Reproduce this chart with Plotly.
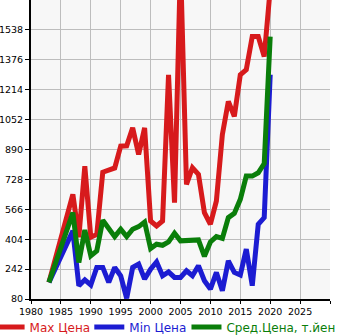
import plotly.graph_objects as go

years = [1983, 1987, 1988, 1989, 1990, 1991, 1992, 1993, 1994, 1995, 1996, 1997,
         1998, 1999, 2000, 2001, 2002, 2003, 2004, 2005, 2006, 2007, 2008, 2009,
         2010, 2011, 2012, 2013, 2014, 2015, 2016, 2017, 2018, 2019, 2020]

max_price = [170, 647, 415, 800, 415, 430, 767, 780, 790, 908, 910, 1007,
             863, 1007, 503, 476, 503, 1295, 602, 1900, 701, 791, 755, 548,
             485, 611, 971, 1151, 1070, 1295, 1322, 1502, 1502, 1394, 1760]

min_price = [170, 449, 152, 184, 156, 251, 251, 170, 251, 206, 84, 251,
             269, 188, 242, 281, 206, 227, 197, 197, 233, 206, 260, 179,
             134, 224, 125, 287, 224, 210, 350, 152, 485, 521, 1295]

avg_price = [170, 548, 278, 454, 314, 341, 507, 462, 418, 458, 418, 458,
             472, 497, 354, 377, 371, 389, 436, 395, 395, 395, 400, 311,
             389, 418, 408, 521, 544, 620, 746, 746, 764, 814, 1502]

y_ticks = [80, 242, 404, 566, 728, 890, 1052, 1214, 1376, 1538]
x_ticks = [1980, 1985, 1990, 1995, 2000, 2005, 2010, 2015, 2020, 2025, 2030]
x_labels = ["1980", "1985", "1990", "1995", "2000", "2005", "2010", "2015",
            "2020", "2025", ""]

# one legend per series so each entry can sit at its own spot
series = [
    ("Max Цена", max_price, "#d71a1c", "legend", -0.1385),
    ("Min Цена", min_price, "#1c1cd2", "legend2", 0.195),
    ("Сред.Цена, т.йен", avg_price, "#0a7e0a", "legend3", 0.52),
]

fig = go.Figure()
legend_cfg = {}
for name, vals, color, leg, lx in series:
    fig.add_trace(go.Scatter(
        x=years, y=vals, mode="lines",
        name=f"<span style='color:{color}'>{name}</span>",
        line=dict(color=color, width=5),
        legend=leg,
    ))
    legend_cfg[leg] = dict(orientation="h", x=lx, xanchor="left", y=-0.045,
                           yanchor="top", font=dict(size=12), itemwidth=30,
                           bgcolor="rgba(0,0,0,0)")

fig.update_layout(
    width=345, height=335,
    margin=dict(l=31, r=15, t=0, b=36, autoexpand=False),
    paper_bgcolor="white",
    plot_bgcolor="#f7f7f7",
    font=dict(family="DejaVu Sans", size=9.5, color="black"),
    showlegend=True,
    **legend_cfg,
)
fig.update_xaxes(
    range=[1980, 2030], tickvals=x_ticks, ticktext=x_labels, tickangle=0,
    showgrid=True, gridcolor="#bdbdbd", gridwidth=1,
    showline=True, linecolor="black", linewidth=2,
    ticks="outside", ticklen=3, tickcolor="black", zeroline=False,
)
fig.update_yaxes(
    range=[80, 1700], tickvals=y_ticks,
    showgrid=True, gridcolor="#bdbdbd", gridwidth=1,
    showline=True, linecolor="black", linewidth=2,
    ticks="outside", ticklen=4, tickcolor="black", zeroline=False,
)

fig.write_html("out.html")
